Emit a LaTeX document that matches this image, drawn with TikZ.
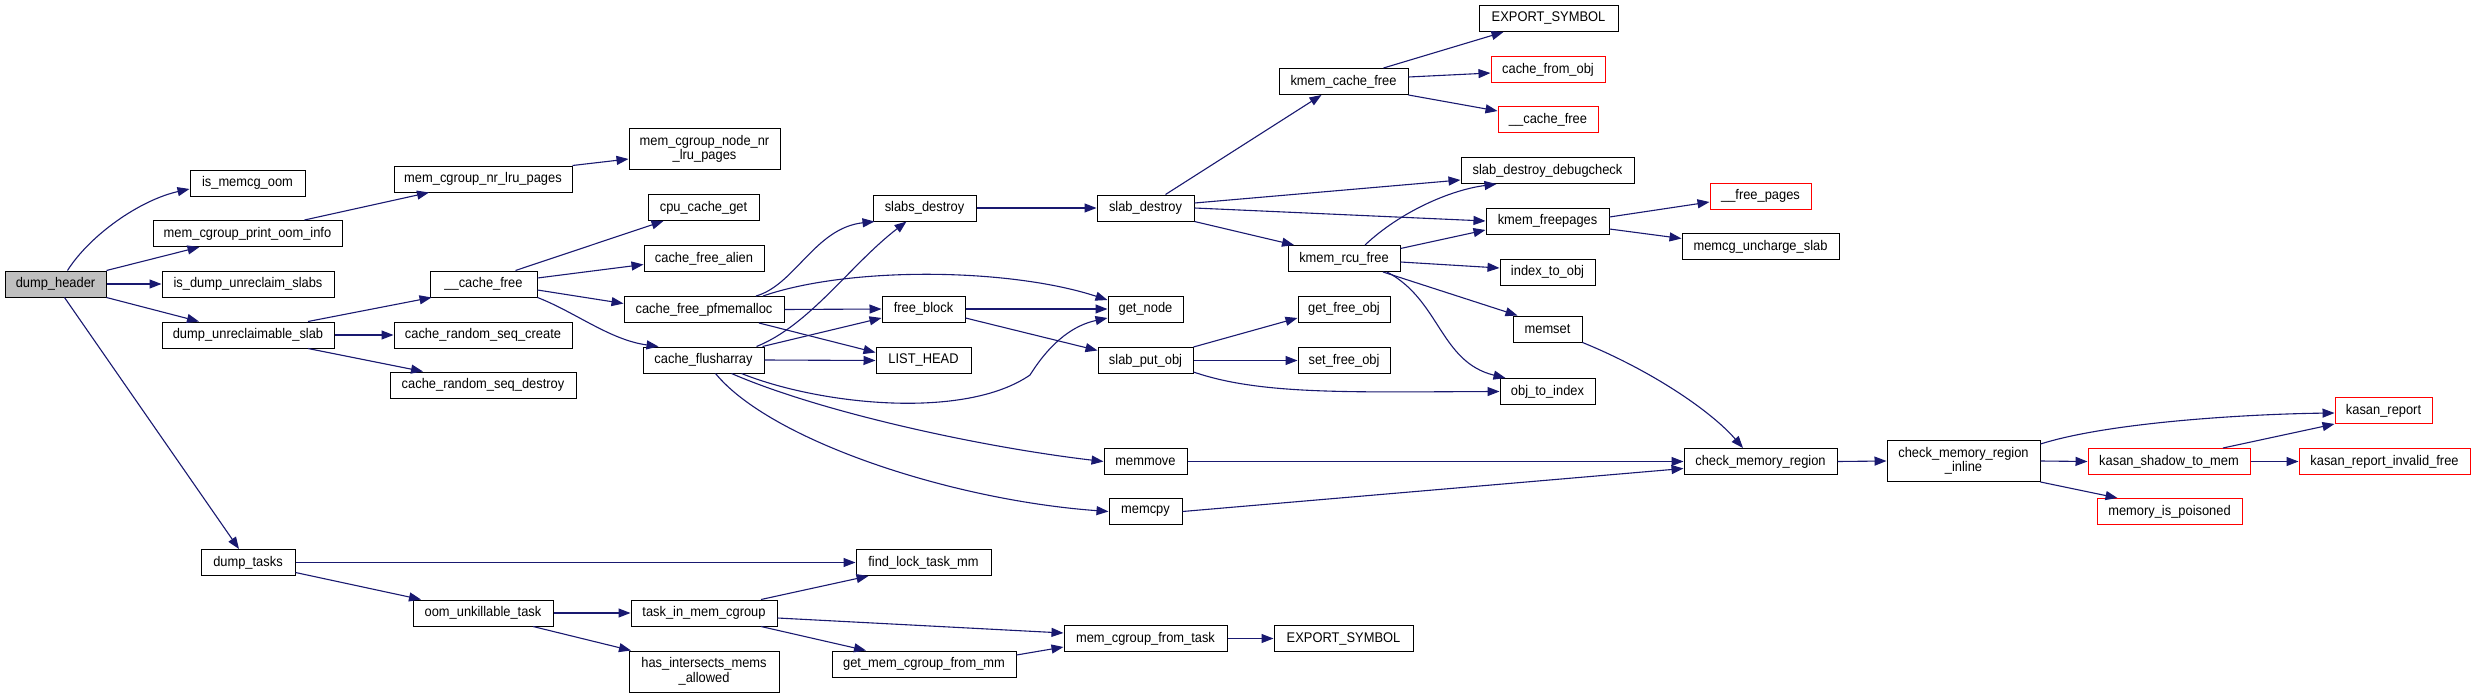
\documentclass[tikz,border=0pt]{standalone}
\usepackage{fontspec}
\setmainfont{Liberation Sans}[FakeStretch=0.92]
\usetikzlibrary{arrows.meta}
\definecolor{mblue}{HTML}{191970}
\definecolor{hgray}{HTML}{BFBFBF}
\newcommand\fs{\fontsize{14}{14.5}\selectfont}
\tikzset{
 box/.style={draw=black, line width=1pt, fill=white, minimum height=26pt, inner sep=0pt, font=\fs, align=center},
 rbox/.style={box, draw=red},
 tbox/.style={box, minimum height=41pt},
 e/.style={draw=mblue, line width=1.1pt, -{Triangle[length=12pt,width=9pt]}}
}
\begin{document}
\begin{tikzpicture}[x=1pt,y=-1pt]
\useasboundingbox[fill=white] (0,0) rectangle (2475,698);
% column 0-1
\node[box,fill=hgray,minimum width=101pt] (dh) at (55.5,284) {dump\_header};
\node[box,minimum width=115pt] (imo) at (247.5,183) {is\_memcg\_oom};
\node[box,minimum width=189pt] (mcpoi) at (247.5,233.5) {mem\_cgroup\_print\_oom\_info};
\node[box,minimum width=172pt] (idus) at (248,284) {is\_dump\_unreclaim\_slabs};
\node[box,minimum width=172pt] (dus) at (248,335) {dump\_unreclaimable\_slab};
\node[box,minimum width=94pt] (dt) at (248,562.5) {dump\_tasks};
% column 2
\node[box,minimum width=178pt] (mcnlp) at (483,179) {mem\_cgroup\_nr\_lru\_pages};
\node[box,minimum width=107pt] (cf) at (483.5,284) {\_\_cache\_free};
\node[box,minimum width=178pt] (crsc) at (483,335) {cache\_random\_seq\_create};
\node[box,minimum width=186pt] (crsd) at (483,385) {cache\_random\_seq\_destroy};
\node[box,minimum width=140pt] (out) at (483,613) {oom\_unkillable\_task};
% column 3
\node[tbox,minimum width=151pt] (mcnnlp) at (704.5,149) {mem\_cgroup\_node\_nr\\\_lru\_pages};
\node[box,minimum width=111pt] (ccg) at (703.5,207.5) {cpu\_cache\_get};
\node[box,minimum width=120pt] (cfa) at (704,258.5) {cache\_free\_alien};
\node[box,minimum width=160pt] (cfp) at (704,309.5) {cache\_free\_pfmemalloc};
\node[box,minimum width=121pt] (cfl) at (703.5,360) {cache\_flusharray};
\node[box,minimum width=146pt] (timc) at (704,613) {task\_in\_mem\_cgroup};
\node[tbox,minimum width=150pt] (hima) at (704,671.5) {has\_intersects\_mems\\\_allowed};
% column 4
\node[box,minimum width=103pt] (sd) at (924.5,208) {slabs\_destroy};
\node[box,minimum width=83pt] (fb) at (923.5,309) {free\_block};
\node[box,minimum width=95pt] (lh) at (923.5,360.5) {LIST\_HEAD};
\node[box,minimum width=135pt] (flt) at (923.5,562.5) {find\_lock\_task\_mm};
\node[box,minimum width=184pt] (gmcfm) at (924,664) {get\_mem\_cgroup\_from\_mm};
% column 5
\node[box,minimum width=97pt] (sdy) at (1145.5,208) {slab\_destroy};
\node[box,minimum width=75pt] (gn) at (1145.5,309) {get\_node};
\node[box,minimum width=95pt] (spo) at (1145.5,360.5) {slab\_put\_obj};
\node[box,minimum width=83pt] (mm) at (1145.5,461.5) {memmove};
\node[box,minimum width=73pt] (mc) at (1145.5,511.5) {memcpy};
\node[box,minimum width=163pt] (mcft) at (1145.5,638.5) {mem\_cgroup\_from\_task};
% column 6
\node[box,minimum width=129pt] (kcf) at (1343.5,81.5) {kmem\_cache\_free};
\node[box,minimum width=112pt] (krf) at (1344,258.5) {kmem\_rcu\_free};
\node[box,minimum width=92pt] (gfo) at (1344,309) {get\_free\_obj};
\node[box,minimum width=92pt] (sfo) at (1344,360.5) {set\_free\_obj};
\node[box,minimum width=139pt] (esb) at (1343.5,638.5) {EXPORT\_SYMBOL};
% column 7
\node[box,minimum width=139pt] (est) at (1548.5,18.5) {EXPORT\_SYMBOL};
\node[rbox,minimum width=114pt] (cfo) at (1548,69.5) {cache\_from\_obj};
\node[rbox,minimum width=100pt] (cfr) at (1548,120) {\_\_cache\_free};
\node[box,minimum width=173pt] (sdd) at (1547.5,170.5) {slab\_destroy\_debugcheck};
\node[box,minimum width=123pt] (kfp) at (1547.5,221) {kmem\_freepages};
\node[box,minimum width=95pt] (ito) at (1547.5,272) {index\_to\_obj};
\node[box,minimum width=69pt] (ms) at (1547.5,329) {memset};
\node[box,minimum width=95pt] (oti) at (1547.5,391.5) {obj\_to\_index};
% column 8
\node[rbox,minimum width=101pt] (fp) at (1760.5,196) {\_\_free\_pages};
\node[box,minimum width=157pt] (mus) at (1760.5,246.5) {memcg\_uncharge\_slab};
\node[box,minimum width=153pt] (cmr) at (1760.5,461.5) {check\_memory\_region};
% column 9-11
\node[tbox,minimum width=153pt] (cmri) at (1963.5,461) {check\_memory\_region\\\_inline};
\node[rbox,minimum width=162pt] (kstm) at (2169,461.5) {kasan\_shadow\_to\_mem};
\node[rbox,minimum width=145pt] (mip) at (2169.5,511.5) {memory\_is\_poisoned};
\node[rbox,minimum width=97pt] (kr) at (2383.5,410.5) {kasan\_report};
\node[rbox,minimum width=171pt] (krif) at (2384.5,461.5) {kasan\_report\_invalid\_free};

% edges
\draw[e] ([xshift=12pt]dh.north) .. controls (90,235) and (140,200) .. ([yshift=-6pt]imo.west);
\draw[e] (dh.north east) -- ([xshift=-48pt]mcpoi.south);
\draw[e] (dh.east) -- (idus.west);
\draw[e] (dh.south east) -- ([xshift=-49pt]dus.north);
\draw[e] ([xshift=9pt]dh.south) -- ([xshift=-9pt]dt.north);
\draw[e] ([xshift=57pt]mcpoi.north) -- ([xshift=-54pt]mcnlp.south);
\draw[e] (mcnlp.north east) -- ([yshift=-10pt]mcnnlp.west);
\draw[e] ([xshift=60pt]dus.north) -- ([xshift=2pt]cf.south west);
\draw[e] (dus.east) -- (crsc.west);
\draw[e] ([xshift=60pt]dus.south) -- ([xshift=-60pt]crsd.north);
\draw[e] ([xshift=32pt]cf.north) -- ([xshift=-40pt]ccg.south);
\draw[e] ([yshift=6pt]cf.east) -- ([yshift=-6pt]cfa.west);
\draw[e] ([yshift=-6pt]cf.east) -- ([yshift=6pt]cfp.west);
\draw[e] (cf.south east) .. controls (575,312) and (610,340) .. ([xshift=-45pt]cfl.north);
\draw[e] ([xshift=52pt]cfp.north) .. controls (795,285) and (815,228) .. ([xshift=2pt]sd.south west);
\draw[e] ([xshift=59pt]cfp.north) .. controls (850,266) and (1010,268) .. ([yshift=9pt]gn.west);
\draw[e] (cfp.east) -- (fb.west);
\draw[e] ([xshift=55pt]cfp.south) -- ([yshift=8pt]lh.west);
\draw[e] ([xshift=53pt]cfl.north) .. controls (810,325) and (850,265) .. ([xshift=-18pt]sd.south);
\draw[e] ([xshift=59pt]cfl.north) -- ([yshift=-9pt]fb.west);
\draw[e] (cfl.east) -- (lh.west);
\draw[e] ([xshift=38pt]cfl.south) .. controls (820,405) and (965,420) .. (1030,375) .. controls (1052,340) and (1075,325) .. ([yshift=-9pt]gn.west);
\draw[e] ([xshift=28pt]cfl.south) .. controls (820,412) and (980,447) .. (mm.west);
\draw[e] ([xshift=12pt]cfl.south) .. controls (770,440) and (950,500) .. (mc.west);
\draw[e] (fb.east) -- (gn.west);
\draw[e] ([yshift=-9pt]fb.east) -- ([yshift=10pt]spo.west);
\draw[e] (sd.east) -- (sdy.west);
\draw[e] ([xshift=20pt]sdy.north) -- ([xshift=-22pt]kcf.south);
\draw[e] ([yshift=5pt]sdy.east) -- ([yshift=-9.5pt]sdd.west);
\draw[e] (sdy.east) -- (kfp.west);
\draw[e] (sdy.south east) -- ([xshift=-50pt]krf.north);
\draw[e] ([xshift=40pt]kcf.north) -- ([xshift=-45pt]est.south);
\draw[e] ([yshift=4.5pt]kcf.east) -- ([yshift=-3.5pt]cfo.west);
\draw[e] (kcf.south east) -- ([yshift=9pt]cfr.west);
\draw[e] ([xshift=21pt]krf.north) .. controls (1400,212) and (1450,190) .. ([xshift=-51pt]sdd.south);
\draw[e] ([yshift=10pt]krf.east) -- ([yshift=-9pt]kfp.west);
\draw[e] ([yshift=-3.5pt]krf.east) -- ([yshift=4pt]ito.west);
\draw[e] ([xshift=39pt]krf.south) -- ([xshift=-30pt]ms.north);
\draw[e] ([xshift=43pt]krf.south) .. controls (1440,300) and (1440,362) .. ([xshift=-42pt]oti.north);
\draw[e] ([yshift=4pt]kfp.east) -- ([yshift=-6pt]fp.west);
\draw[e] ([yshift=-8pt]kfp.east) -- ([yshift=8pt]mus.west);
\draw[e] (spo.north east) -- ([yshift=-9pt]gfo.west);
\draw[e] (spo.east) -- (sfo.west);
\draw[e] ([yshift=-11.5pt]spo.east) .. controls (1260,395) and (1350,392) .. (oti.west);
\draw[e] (ms.south east) .. controls (1650,370) and (1710,410) .. ([xshift=-17.5pt]cmr.north);
\draw[e] (mm.east) -- (cmr.west);
\draw[e] (mc.east) -- ([yshift=-7pt]cmr.west);
\draw[e] (cmr.east) -- (cmri.west);
\draw[e] ([yshift=17pt]cmri.east) .. controls (2110,422) and (2250,414) .. ([yshift=-2.5pt]kr.west);
\draw[e] (cmri.east) -- (kstm.west);
\draw[e] (cmri.south east) -- ([xshift=-52pt]mip.north);
\draw[e] ([xshift=54pt]kstm.north) -- (kr.south west);
\draw[e] (kstm.east) -- (krif.west);
\draw[e] (dt.east) -- (flt.west);
\draw[e] ([yshift=-10pt]dt.east) -- ([xshift=-62pt]out.north);
\draw[e] (out.east) -- (timc.west);
\draw[e] ([xshift=50pt]out.south) -- ([xshift=-73pt]hima.north);
\draw[e] ([xshift=57pt]timc.north) -- ([xshift=-55pt]flt.south);
\draw[e] ([yshift=-5pt]timc.east) -- ([yshift=5.5pt]mcft.west);
\draw[e] ([xshift=57pt]timc.south) -- ([xshift=-58pt]gmcfm.north);
\draw[e] ([yshift=9pt]gmcfm.east) -- ([yshift=-8.5pt]mcft.west);
\draw[e] (mcft.east) -- (esb.west);
\end{tikzpicture}
\end{document}
